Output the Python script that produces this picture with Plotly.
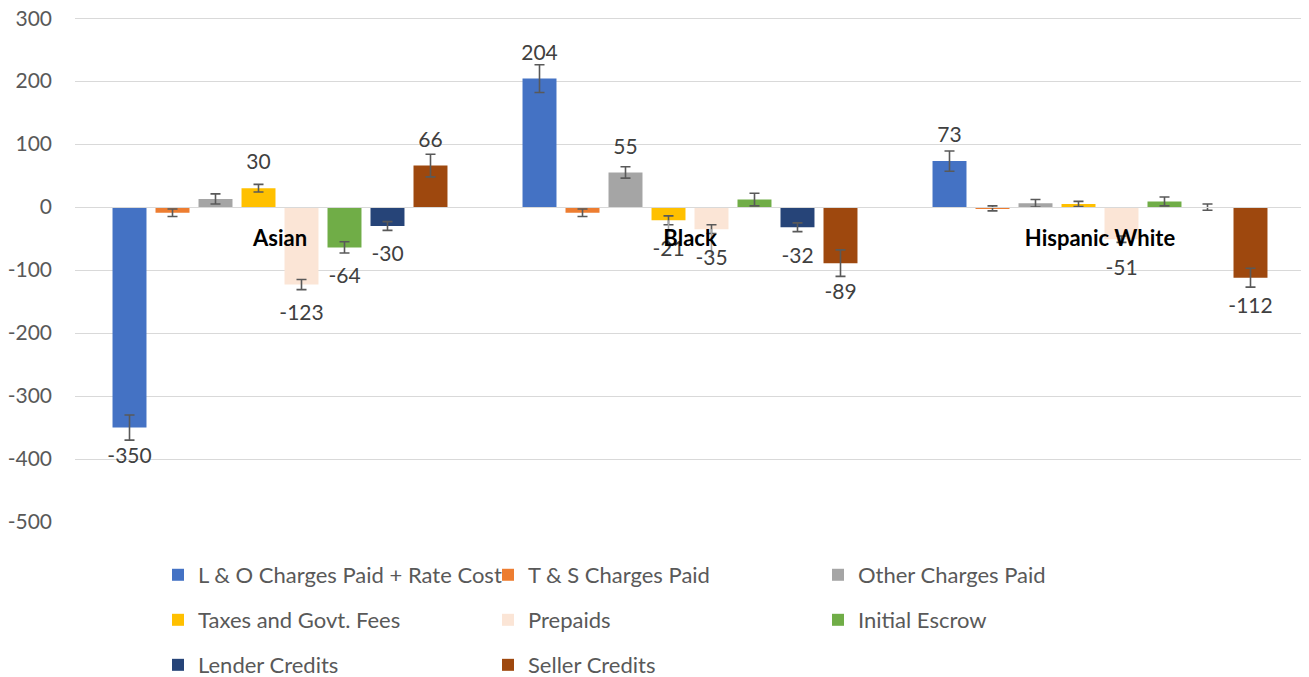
import plotly.graph_objects as go

categories = ["Asian", "Black", "Hispanic White"]
series_names = [
    "L & O Charges Paid + Rate Cost", "T & S Charges Paid", "Other Charges Paid",
    "Taxes and Govt. Fees", "Prepaids", "Initial Escrow",
    "Lender Credits", "Seller Credits",
]

# values per series (Asian, Black, Hispanic White)
lo_charges_rate_cost = [-350, 204, 73]
ts_charges_paid = [-9, -9, -2]
other_charges_paid = [13, 55, 6]
taxes_govt_fees = [30, -21, 5]
prepaids = [-123, -35, -51]
initial_escrow = [-64, 12, 9]
lender_credits = [-30, -32, 0]
seller_credits = [66, -89, -112]

# symmetric error bars
lo_err = [20, 22, 16]
ts_err = [6, 6, 4]
other_err = [8, 9, 6]
taxes_err = [6, 7, 4]
prepaids_err = [8, 7, 5]
escrow_err = [9, 10, 7]
lender_err = [7, 7, 5]
seller_err = [18, 21, 15]

# faint extra lower whiskers seen in the reference
lo_tail = [0, 0, 0]
ts_tail = [0, 0, 0]
other_tail = [0, 0, 0]
taxes_tail = [0, 42, 0]
prepaids_tail = [0, 43, 0]
escrow_tail = [0, 0, 0]
lender_tail = [0, 0, 0]
seller_tail = [0, 0, 0]

y_tick_values = [-500, -400, -300, -200, -100, 0, 100, 200, 300]
y_tick_labels = ["-500", "-400", "-300", "-200", "-100", "0", "100", "200", "300"]
y_range = [-500, 305]

series_values = [lo_charges_rate_cost, ts_charges_paid, other_charges_paid, taxes_govt_fees,
                 prepaids, initial_escrow, lender_credits, seller_credits]
series_err = [lo_err, ts_err, other_err, taxes_err, prepaids_err, escrow_err, lender_err, seller_err]
series_tail = [lo_tail, ts_tail, other_tail, taxes_tail, prepaids_tail, escrow_tail,
               lender_tail, seller_tail]
colors = ["#4472C4", "#ED7D31", "#A5A5A5", "#FFC000", "#FBE5D6", "#70AD47", "#264478", "#9E480E"]
legend_ids = ["legend", "legend", "legend", "legend2", "legend2", "legend2", "legend3", "legend3"]

FONT = "Lato"
fig = go.Figure()

for i, name in enumerate(series_names):
    vals = series_values[i]
    fig.add_trace(go.Bar(
        name=name, x=categories, y=vals,
        marker=dict(color=colors[i], line=dict(width=0)),
        offsetgroup=str(i), alignmentgroup="g",
        error_y=dict(type="data", array=series_err[i], color="#595959", thickness=1.6, width=5),
        legend=legend_ids[i], hoverinfo="x+y+name",
    ))

for i, name in enumerate(series_names):
    vals = series_values[i]
    labels = [str(v) if abs(v) >= 20 else "" for v in vals]
    tail = series_tail[i]
    err = dict(visible=False)
    if any(tail):
        err = dict(type="data", symmetric=False, array=[0] * len(tail), arrayminus=tail,
                   color="#A6A6A6", thickness=1.6, width=0)
    fig.add_trace(go.Scatter(
        x=categories, y=vals, mode="markers+text", text=labels,
        textposition=["top center" if v >= 0 else "bottom center" for v in vals],
        textfont=dict(family=FONT, size=21, color="#404040"),
        marker=dict(size=[20 if v >= 0 else 30 for v in vals], color="rgba(0,0,0,0)",
                    opacity=0, line=dict(width=0)),
        error_y=err,
        offsetgroup=str(i), alignmentgroup="g", orientation="v",
        showlegend=False, hoverinfo="skip", cliponaxis=False,
    ))

zero_pos = (0 - y_range[0]) / (y_range[1] - y_range[0])

legend_common = dict(
    orientation="h", xref="container", yref="container", x=0.1153, xanchor="left",
    yanchor="middle",
    font=dict(family=FONT, size=22, color="#595959"),
    entrywidth=285, entrywidthmode="pixels", bgcolor="rgba(0,0,0,0)", traceorder="normal",
    borderwidth=0,
)

fig.update_layout(
    template="none",
    width=1301, height=669,
    margin=dict(l=67, r=4, t=7, b=155),
    paper_bgcolor="white", plot_bgcolor="white",
    barmode="group", bargap=0.161, bargroupgap=0.21,
    scattermode="group", scattergap=0.161,
    font=dict(family=FONT, color="#595959"),
    showlegend=True,
    legend=dict(legend_common, y=0.1525),
    legend2=dict(legend_common, y=0.0852),
    legend3=dict(legend_common, y=0.0179),
    xaxis=dict(
        anchor="free", position=zero_pos, showgrid=False, showline=True,
        linecolor="#D9D9D9", linewidth=1.3, ticks="", automargin=False,
        tickfont=dict(family=FONT, size=22, color="black", weight="bold"),
        ticklabelstandoff=11,
    ),
    yaxis=dict(
        range=y_range, tickvals=y_tick_values, ticktext=y_tick_labels,
        showgrid=True, gridcolor="#D9D9D9", gridwidth=1.3, zeroline=False,
        ticks="", ticklabelstandoff=22, automargin=False, showline=False,
        ticklabeloverflow="allow",
        tickfont=dict(family=FONT, size=21, color="#595959"),
    ),
)

fig.write_html("out.html")
